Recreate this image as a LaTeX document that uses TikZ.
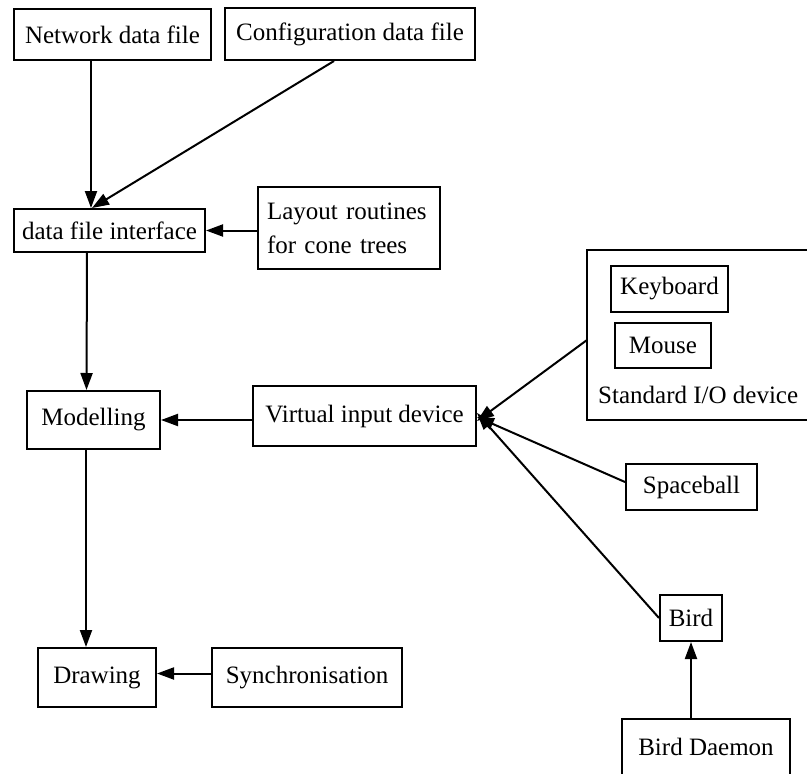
\documentclass[tikz,border=0pt]{standalone}
\usepackage{fontspec}
\setmainfont{Liberation Serif}
\usetikzlibrary{arrows.meta,calc}
\begin{document}
\begin{tikzpicture}[x=1pt,y=-1pt,
  font=\fontsize{25}{34}\selectfont,
  box/.style={draw,line width=2pt,inner sep=0pt,align=center},
  flow/.style={line width=2pt,-{Triangle[length=17pt,width=12pt]}}]
\useasboundingbox (0,0) rectangle (807,774);
\clip (0,0) rectangle (807,774);

% data files and layout
\node[box,minimum width=197pt,minimum height=51pt] (net) at (112.5,34.5) {Network data file};
\node[box,minimum width=250pt,minimum height=52pt] (cfg) at (350,34) {Configuration data file};
\node[box,minimum width=191pt,minimum height=43pt] (dfi) at (109.5,230.5) {data file interface};
\node[box,minimum width=182pt,minimum height=82pt,align=left,text width=164pt] (lay) at (349,228)
  {Layout routines\\for cone trees};

% core pipeline
\node[box,minimum width=133pt,minimum height=58pt] (mod) at (93.5,420) {Modelling};
\node[box,minimum width=223pt,minimum height=60pt] (vid) at (364.5,416) {Virtual input device};
\node[box,minimum width=118pt,minimum height=59pt] (drw) at (97,677.5) {Drawing};
\node[box,minimum width=190pt,minimum height=59pt] (syn) at (307,677.5) {Synchronisation};

% standard I/O devices group
\draw[line width=2pt] (587,250) rectangle (840,420);
\coordinate (io) at (587,340);
\node[box,minimum width=117pt,minimum height=46pt] (kb) at (669.5,289) {Keyboard};
\node[box,minimum width=96pt,minimum height=45pt] (ms) at (663,345.5) {Mouse};
\node[anchor=west,inner sep=0pt] (iolbl) at (598,395) {Standard I/O device};

% other input devices
\node[box,minimum width=131pt,minimum height=46pt] (sb) at (691.5,487) {Spaceball};
\node[box,minimum width=62pt,minimum height=46pt] (bird) at (691,618) {Bird};
\node[box,minimum width=168pt,minimum height=56pt] (bd) at (706,747) {Bird Daemon};

% connectors
\draw[flow] ([xshift=-21.5pt]net.south) -- ([xshift=-18.5pt]dfi.north);
\draw[flow] ([xshift=-16pt]cfg.south) -- ([xshift=-17.5pt]dfi.north);
\draw[flow] (lay.west |- dfi.east) -- (dfi.east);
\draw[flow] ([xshift=-22.5pt]dfi.south) -- ([xshift=-7pt]mod.north);
\draw[flow] (vid.west |- mod.east) -- (mod.east);
\draw[flow] ([xshift=-7.5pt]mod.south) -- ([xshift=-11pt]drw.north);
\draw[flow] ([yshift=4pt]syn.west) -- ([yshift=4pt]drw.east);
\draw[flow] (io) -- ([yshift=-5pt]vid.east);
\draw[flow] ([yshift=5pt]sb.west) -- ([yshift=-1pt]vid.east);
\draw[flow] (bird.west) -- ([yshift=3pt]vid.east);
\draw[flow] ([xshift=-15pt]bd.north) -- (bird.south);
\end{tikzpicture}
\end{document}
